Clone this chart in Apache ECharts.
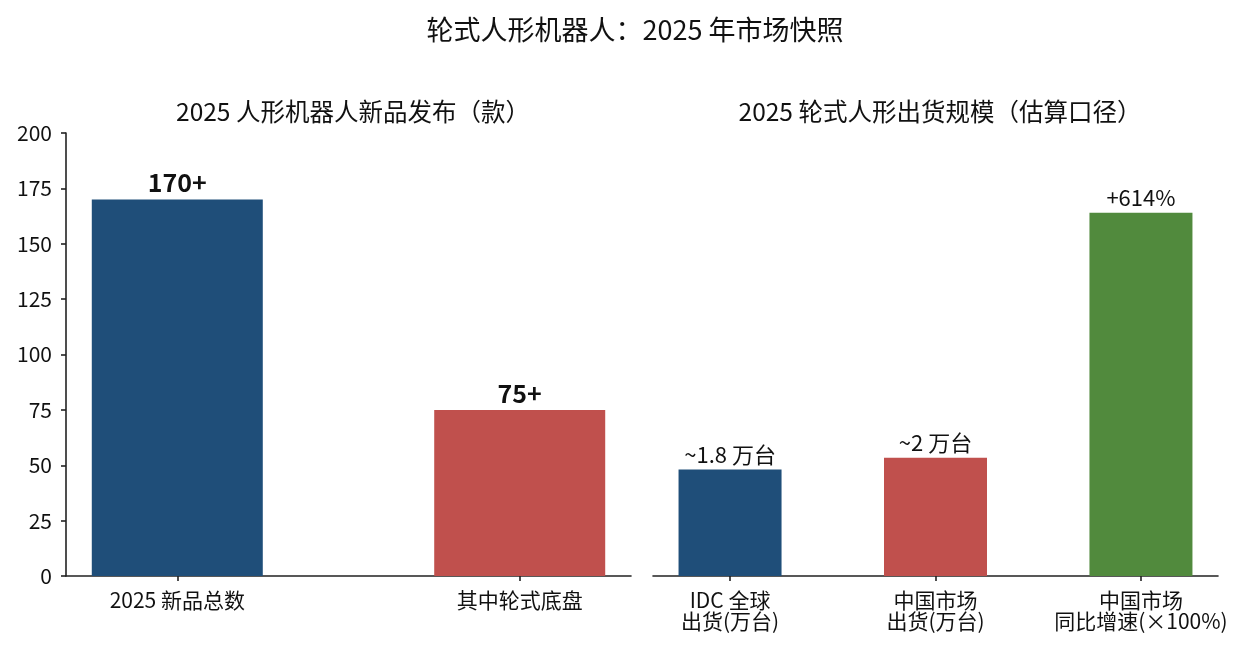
<!DOCTYPE html>
<html>
<head>
<meta charset="utf-8">
<script src="https://cdn.jsdelivr.net/npm/echarts@6/dist/echarts.min.js"></script>
<style>html,body{margin:0;padding:0;background:#fff}#c{width:1243px;height:649px}</style>
</head>
<body>
<div id="c"></div>
<script>
const leftCategories = ['2025 新品总数', '其中轮式底盘'];
const leftValues = [170, 75];
const leftLabels = ['170+', '75+'];
const rightCategories = ['IDC 全球\n出货(万台)', '中国市场\n出货(万台)', '中国市场\n同比增速(×100%)'];
const rightValues = [1.8, 2, 6.14];
const rightLabels = ['~1.8 万台', '~2 万台', '+614%'];
const leftTicks = [0, 25, 50, 75, 100, 125, 150, 175, 200];
const colors = ['#1f4e79', '#c0504d', '#518a3d'];

const FONT = 'Noto Sans CJK SC';
const chart = echarts.init(document.getElementById('c'));

function xAxisFor(gridIndex, cats, min, max) {
  const idx = cats.map((_, i) => i);
  return {
    type: 'value', gridIndex, min, max,
    splitLine: { show: false },
    axisLine: { show: true, onZero: false, lineStyle: { color: '#222', width: 1.6 } },
    axisTick: { show: true, customValues: idx, length: 5, lineStyle: { color: '#222', width: 1.6 } },
    axisLabel: {
      customValues: idx, margin: 14, color: '#111', fontFamily: FONT, fontSize: 21, lineHeight: 21,
      formatter: v => cats[Math.round(v)] ?? ''
    }
  };
}

chart.setOption({
  animation: false,
  textStyle: { fontFamily: FONT },
  title: [
    { text: '轮式人形机器人：2025 年市场快照', left: 630, top: 11, textAlign: 'center',
      textStyle: { fontFamily: FONT, fontSize: 27, fontWeight: 'normal', color: '#111' } },
    { text: '2025 人形机器人新品发布（款）', left: 348, top: 94, textAlign: 'center',
      textStyle: { fontFamily: FONT, fontSize: 24.5, fontWeight: 'normal', color: '#111' } },
    { text: '2025 轮式人形出货规模（估算口径）', left: 935, top: 94, textAlign: 'center',
      textStyle: { fontFamily: FONT, fontSize: 24.5, fontWeight: 'normal', color: '#111' } }
  ],
  grid: [
    { left: 66, width: 565, top: 133, bottom: 73 },
    { left: 653, width: 565, top: 133, bottom: 73 }
  ],
  xAxis: [
    xAxisFor(0, leftCategories, -0.325, 1.325),
    xAxisFor(1, rightCategories, -0.375, 2.375)
  ],
  yAxis: [
    { type: 'value', gridIndex: 0, min: 0, max: 200, interval: 25, position: 'left',
      splitLine: { show: false },
      axisLine: { show: true, onZero: false, lineStyle: { color: '#222', width: 1.6 } },
      axisTick: { show: true, length: 5, lineStyle: { color: '#222', width: 1.6 } },
      axisLabel: { color: '#111', fontFamily: FONT, fontSize: 21, margin: 14,
        formatter: v => leftTicks.includes(v) ? String(v) : '' } },
    { type: 'value', gridIndex: 1, min: 0, max: 7.49,
      splitLine: { show: false }, axisLine: { show: false }, axisTick: { show: false }, axisLabel: { show: false } }
  ],
  series: [
    { type: 'bar', xAxisIndex: 0, yAxisIndex: 0, barWidth: 171,
      data: leftValues.map((v, i) => ({ value: [i, v], itemStyle: { color: colors[i] },
        label: { show: true, position: 'top', distance: 4, formatter: leftLabels[i],
          fontFamily: FONT, fontSize: 25, fontWeight: 'bold', color: '#111' } })) },
    { type: 'bar', xAxisIndex: 1, yAxisIndex: 1, barWidth: 103,
      data: rightValues.map((v, i) => ({ value: [i, v], itemStyle: { color: colors[i] },
        label: { show: true, position: 'top', distance: 4, formatter: rightLabels[i],
          fontFamily: FONT, fontSize: 22, color: '#111' } })) }
  ]
});
</script>
</body>
</html>
